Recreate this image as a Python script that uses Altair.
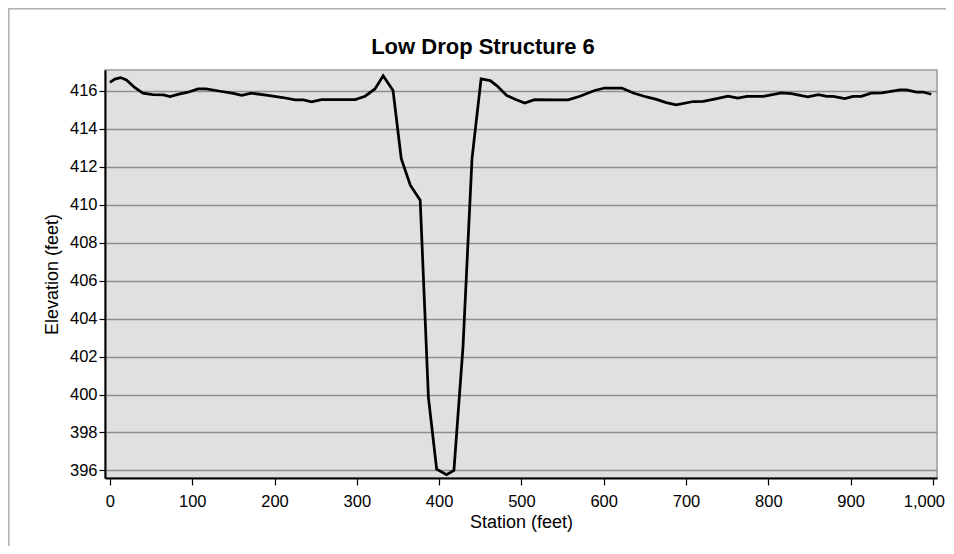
import altair as alt
import pandas as pd

# Station (feet) and elevation (feet)
station = [0, 6, 13, 20, 30, 40, 52, 65, 73, 85, 95, 107, 117, 134, 150, 160,
           172, 192, 210, 225, 235, 245, 257, 280, 298, 310, 322, 332, 344,
           354, 365, 377, 387, 397, 409, 418, 429, 440, 451, 462, 470, 482,
           493, 504, 516, 540, 557, 571, 589, 601, 622, 636, 652, 664, 676,
           688, 709, 721, 736, 751, 763, 774, 794, 816, 828, 848, 861, 871,
           879, 893, 903, 913, 925, 938, 960, 968, 980, 988, 998]
elevation = [416.45, 416.62, 416.70, 416.58, 416.18, 415.88, 415.80, 415.79,
             415.70, 415.84, 415.93, 416.10, 416.10, 415.98, 415.87, 415.76,
             415.88, 415.76, 415.65, 415.53, 415.52, 415.42, 415.54, 415.54,
             415.54, 415.72, 416.10, 416.80, 416.02, 412.43, 411.03, 410.24,
             399.85, 396.07, 395.77, 396.00, 402.50, 412.45, 416.63, 416.54,
             416.28, 415.76, 415.55, 415.36, 415.54, 415.53, 415.53, 415.72,
             416.02, 416.15, 416.15, 415.89, 415.68, 415.55, 415.38, 415.27,
             415.44, 415.45, 415.58, 415.72, 415.62, 415.71, 415.71, 415.89,
             415.85, 415.68, 415.80, 415.71, 415.71, 415.59, 415.71, 415.71,
             415.88, 415.89, 416.05, 416.05, 415.94, 415.94, 415.82]

x_ticks = list(range(0, 1001, 100))
y_ticks = list(range(396, 417, 2))

df = pd.DataFrame({"station": station, "elevation": elevation})

FONT = "Liberation Sans"

line = alt.Chart(df).mark_line(color="black", strokeWidth=2.75).encode(
    x=alt.X("station:Q",
            scale=alt.Scale(domain=[-6, 1005], nice=False, zero=False),
            axis=alt.Axis(values=x_ticks, format=",d", title="Station (feet)",
                          grid=False, domainColor="black", domainWidth=2,
                          tickColor="black", tickSize=7, tickWidth=1.2,
                          labelFontSize=16.5, titleFontSize=18,
                          labelColor="black", titleColor="black",
                          titleFontWeight="normal", labelPadding=8,
                          titlePadding=4,
                          labelOffset=alt.ExprRef(
                              expr="datum.value === 1000 ? -9 : 0"))),
    y=alt.Y("elevation:Q",
            scale=alt.Scale(domain=[395.6, 417.1], nice=False, zero=False),
            axis=alt.Axis(values=y_ticks, title="Elevation (feet)",
                          grid=True, gridColor="#8e8e8e", gridWidth=1.5,
                          domainColor="black", domainWidth=2,
                          tickColor="black", tickSize=6, tickWidth=1.2,
                          labelFontSize=16.5, titleFontSize=18,
                          labelColor="black", titleColor="black",
                          titleFontWeight="normal", labelPadding=2,
                          titlePadding=8)),
)

frame = alt.Chart(pd.DataFrame({"a": [0]})).mark_rect(
    fill=None, stroke="#b0b0b0", strokeWidth=1.5
).encode(
    x=alt.value(-96.2), x2=alt.value(2000),
    y=alt.value(-61.2), y2=alt.value(2000),
)

chart = alt.layer(frame, line).properties(
    width=832,
    height=408,
    padding={"left": 97, "top": 62, "right": 9, "bottom": 68},
    autosize=alt.AutoSizeParams(type="none"),
    title=alt.TitleParams("Low Drop Structure 6", fontSize=22,
                          fontWeight="bold", font=FONT, color="black",
                          anchor="middle", frame="group", dx=-38,
                          baseline="alphabetic", offset=-67.5),
).configure(
    font=FONT,
).configure_view(
    fill="#e0e0e0", stroke="#9a9a9a", strokeWidth=1.5,
).configure_axis(
    labelFont=FONT, titleFont=FONT,
)

chart.save("out.html", embed_options={"renderer": "svg", "actions": False})
